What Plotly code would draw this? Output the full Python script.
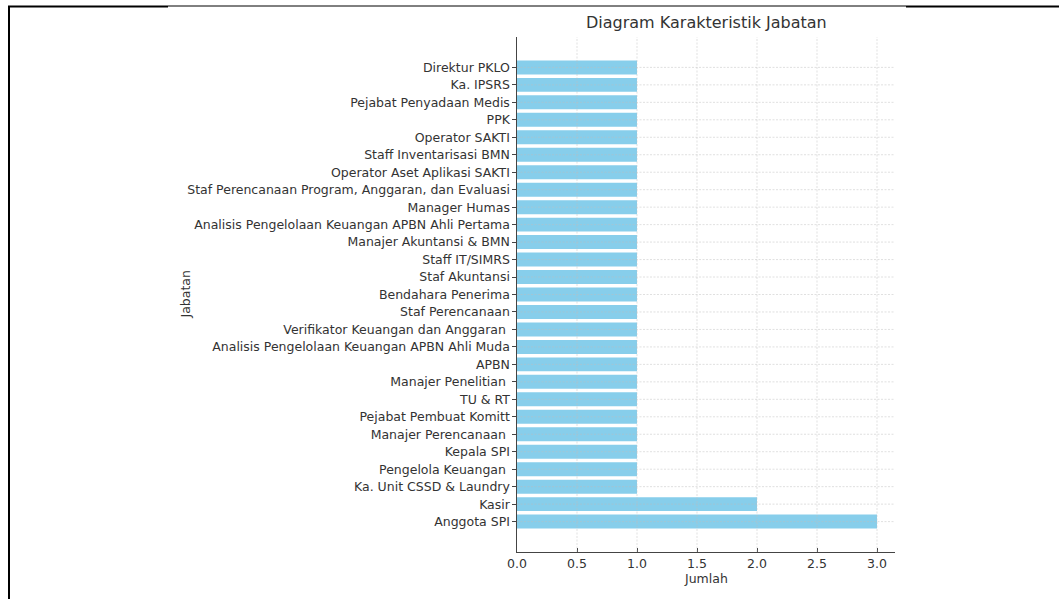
import plotly.graph_objects as go

# Categories listed top-to-bottom as in the chart
jabatan = [
    "Direktur PKLO",
    "Ka. IPSRS",
    "Pejabat Penyadaan Medis",
    "PPK",
    "Operator SAKTI",
    "Staff Inventarisasi BMN",
    "Operator Aset Aplikasi SAKTI",
    "Staf Perencanaan Program, Anggaran, dan Evaluasi",
    "Manager Humas",
    "Analisis Pengelolaan Keuangan APBN Ahli Pertama",
    "Manajer Akuntansi & BMN",
    "Staff IT/SIMRS",
    "Staf Akuntansi",
    "Bendahara Penerima",
    "Staf Perencanaan",
    "Verifikator Keuangan dan Anggaran\u00a0",
    "Analisis Pengelolaan Keuangan APBN Ahli Muda",
    "APBN",
    "Manajer Penelitian\u00a0",
    "TU & RT",
    "Pejabat Pembuat Komitt",
    "Manajer Perencanaan\u00a0",
    "Kepala SPI",
    "Pengelola Keuangan\u00a0",
    "Ka. Unit CSSD & Laundry",
    "Kasir",
    "Anggota SPI",
]
jumlah = [1, 1, 1, 1, 1, 1, 1, 1, 1, 1, 1, 1, 1, 1, 1, 1, 1, 1, 1, 1, 1, 1, 1, 1, 1, 2, 3]

x_ticks = [0.0, 0.5, 1.0, 1.5, 2.0, 2.5, 3.0]

cats = list(reversed(jabatan))
vals = list(reversed(jumlah))

FONT = "DejaVu Sans"
TXT = "#333333"
SPINE = "#444444"
GRID = "rgba(190,190,190,0.6)"
X_MAX = 3.15
Y_RANGE = [-1.74, 27.74]
FS = 12.5

fig = go.Figure(go.Bar(
    x=vals, y=cats, orientation="h", width=0.8,
    marker=dict(color="#87CEEB", line=dict(width=0)),
    hoverinfo="x+y",
))

# plot area in pixels: left 517, right 895, top 37, bottom 552
L, R, T, B = 517, 895, 37, 552
W, H = 1059, 599

def px_x(p):
    return (p - L) / (R - L)

def px_y(p):
    return (B - p) / (B - T)

fig.update_layout(
    width=W, height=H,
    margin=dict(l=L, r=W - R, t=T, b=H - B, pad=0),
    paper_bgcolor="white", plot_bgcolor="white",
    font=dict(family=FONT, size=FS, color=TXT),
    showlegend=False,
    bargap=0.2,
)
fig.update_xaxes(
    range=[0, X_MAX], tickvals=x_ticks, ticktext=[f"{v:.1f}" for v in x_ticks],
    showgrid=False,
    showline=True, linecolor=SPINE, linewidth=1.2,
    ticks="inside", ticklen=3.5, tickcolor=SPINE, tickwidth=0.8,
    tickfont=dict(family=FONT, size=FS, color=TXT),
    zeroline=False, layer="above traces",
)
fig.update_yaxes(
    type="category", categoryorder="array", categoryarray=cats,
    range=Y_RANGE,
    showgrid=False,
    showline=True, linecolor=SPINE, linewidth=1.2,
    ticks="outside", ticklen=3.5, tickcolor=SPINE, tickwidth=0.8,
    tickfont=dict(family=FONT, size=FS, color=TXT),
    zeroline=False, layer="above traces",
)

annotations = [
    dict(text="Diagram Karakteristik Jabatan", x=0.5, y=px_y(22), xref="paper", yref="paper",
         xanchor="center", yanchor="middle", showarrow=False,
         font=dict(family=FONT, size=16, color=TXT)),
    dict(text="Jumlah", x=0.5, y=px_y(578), xref="paper", yref="paper",
         xanchor="center", yanchor="middle", showarrow=False,
         font=dict(family=FONT, size=FS, color=TXT)),
    dict(text="Jabatan", x=px_x(185), y=0.5, xref="paper", yref="paper",
         xanchor="center", yanchor="middle", showarrow=False, textangle=-90,
         font=dict(family=FONT, size=FS, color=TXT)),
]
fig.update_layout(annotations=annotations)

shapes = []
# grid lines drawn above the bars (as in the reference)
for v in x_ticks[1:]:
    shapes.append(dict(type="line", xref="x", yref="paper", x0=v, x1=v, y0=0, y1=1,
                       layer="above", line=dict(color=GRID, width=0.8, dash="2px,1.5px")))
for c in cats:
    shapes.append(dict(type="line", xref="paper", yref="y", x0=0, x1=1, y0=c, y1=c,
                       layer="above", line=dict(color=GRID, width=0.8, dash="2px,1.5px")))

# screenshot frame lines
shapes += [
    dict(type="line", xref="paper", yref="paper", x0=px_x(9), x1=px_x(9), y0=px_y(6), y1=px_y(605),
         line=dict(color="black", width=2)),
    dict(type="line", xref="paper", yref="paper", x0=px_x(8), x1=px_x(168), y0=px_y(6.5), y1=px_y(6.5),
         line=dict(color="black", width=2)),
    dict(type="line", xref="paper", yref="paper", x0=px_x(168), x1=px_x(906), y0=px_y(6), y1=px_y(6),
         line=dict(color="black", width=1)),
    dict(type="line", xref="paper", yref="paper", x0=px_x(906), x1=px_x(1065), y0=px_y(6.5), y1=px_y(6.5),
         line=dict(color="black", width=2)),
]
fig.update_layout(shapes=shapes)

fig.write_html(
    "out.html",
    config={"displayModeBar": False},
    post_script="document.body.style.margin='0';document.body.style.overflow='hidden';",
)
